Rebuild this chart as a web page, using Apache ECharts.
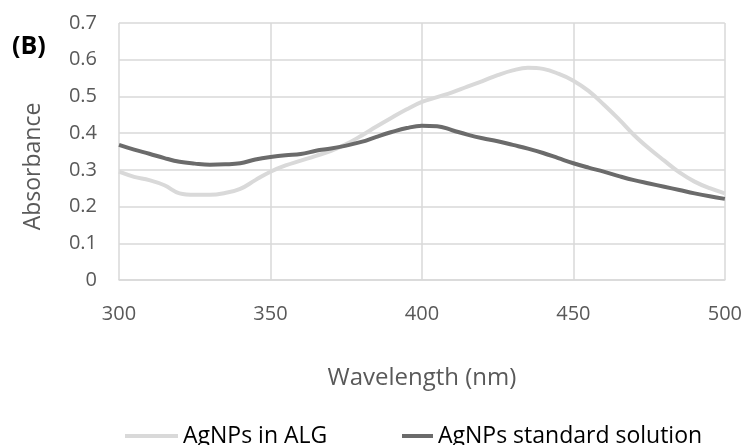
<!DOCTYPE html>
<html>
<head>
<meta charset="utf-8">
<script src="https://cdn.jsdelivr.net/npm/echarts@6/dist/echarts.min.js"></script>
<style>
html,body{margin:0;padding:0;background:#fff;}
#chart{width:745px;height:445px;}
</style>
</head>
<body>
<div id="chart"></div>
<script>
var wavelengths = [300,305,310,315,320,325,330,335,340,345,350,355,360,365,370,375,380,385,390,395,400,405,410,415,420,425,430,435,440,445,450,455,460,465,470,475,480,485,490,495,500];
var alg = [0.295,0.281,0.272,0.258,0.236,0.232,0.232,0.237,0.248,0.272,0.295,0.312,0.325,0.338,0.352,0.370,0.393,0.418,0.442,0.465,0.485,0.498,0.511,0.527,0.542,0.558,0.571,0.578,0.575,0.562,0.543,0.515,0.478,0.438,0.395,0.358,0.325,0.293,0.268,0.250,0.236];
var standard = [0.368,0.355,0.344,0.332,0.322,0.317,0.314,0.315,0.318,0.328,0.335,0.340,0.343,0.352,0.358,0.366,0.376,0.390,0.403,0.414,0.420,0.419,0.408,0.396,0.386,0.378,0.368,0.358,0.346,0.332,0.318,0.306,0.295,0.283,0.272,0.263,0.254,0.245,0.236,0.228,0.221];
var seriesNames = ['AgNPs in ALG', 'AgNPs standard solution'];
var xTitle = 'Wavelength (nm)';
var yTitle = 'Absorbance';
var panelLabel = '(B)';

function pairs(xs, ys){ return xs.map(function(x,i){ return [x, ys[i]]; }); }

var font = 'Open Sans';
var chart = echarts.init(document.getElementById('chart'), null, {renderer:'canvas'});
chart.setOption({
  animation:false,
  backgroundColor:'#fff',
  textStyle:{fontFamily:font},
  grid:{left:119, right:19, top:23, bottom:165, containLabel:false},
  graphic:[{type:'text', left:12, top:34, style:{text:panelLabel, font:'bold 25px "Open Sans"', fill:'#000'}}],
  legend:[
    {data:[seriesNames[0]], left:120, top:419, icon:'rect', itemWidth:53, itemHeight:4,
     textStyle:{fontFamily:font, fontSize:23, color:'#000', lineHeight:24}},
    {data:[seriesNames[1]], left:397, top:419, icon:'rect', itemWidth:31, itemHeight:4,
     textStyle:{fontFamily:font, fontSize:23, color:'#000', lineHeight:24}}
  ],
  xAxis:{type:'value', min:300, max:500, interval:50,
    name:xTitle, nameLocation:'middle', nameGap:86,
    nameTextStyle:{fontFamily:font, fontSize:24, color:'#595959'},
    axisLine:{show:true, lineStyle:{color:'#d9d9d9', width:1.5}},
    axisTick:{show:false},
    axisLabel:{margin:24, fontFamily:font, fontSize:20, color:'#595959'},
    splitLine:{show:true, lineStyle:{color:'#d9d9d9', width:1.5}}
  },
  yAxis:{type:'value', min:0, max:0.7, interval:0.1,
    name:yTitle, nameLocation:'middle', nameGap:74,
    nameTextStyle:{fontFamily:font, fontSize:23, color:'#595959', padding:[0,30,0,0]},
    axisLine:{show:false}, axisTick:{show:false},
    axisLabel:{margin:22, fontFamily:font, fontSize:20, color:'#595959',
      formatter:function(v){ return v===0 ? '0' : (+v.toFixed(1)).toString(); }},
    splitLine:{show:true, lineStyle:{color:'#d9d9d9', width:1.5}}
  },
  series:[
    {name:seriesNames[0], type:'line', data:pairs(wavelengths, alg), smooth:0.4, symbol:'none',
     lineStyle:{color:'#d9d9d9', width:4}, itemStyle:{color:'#d9d9d9'}},
    {name:seriesNames[1], type:'line', data:pairs(wavelengths, standard), smooth:0.4, symbol:'none',
     lineStyle:{color:'#6b6b6b', width:4}, itemStyle:{color:'#6b6b6b'}}
  ]
});
</script>
</body>
</html>
